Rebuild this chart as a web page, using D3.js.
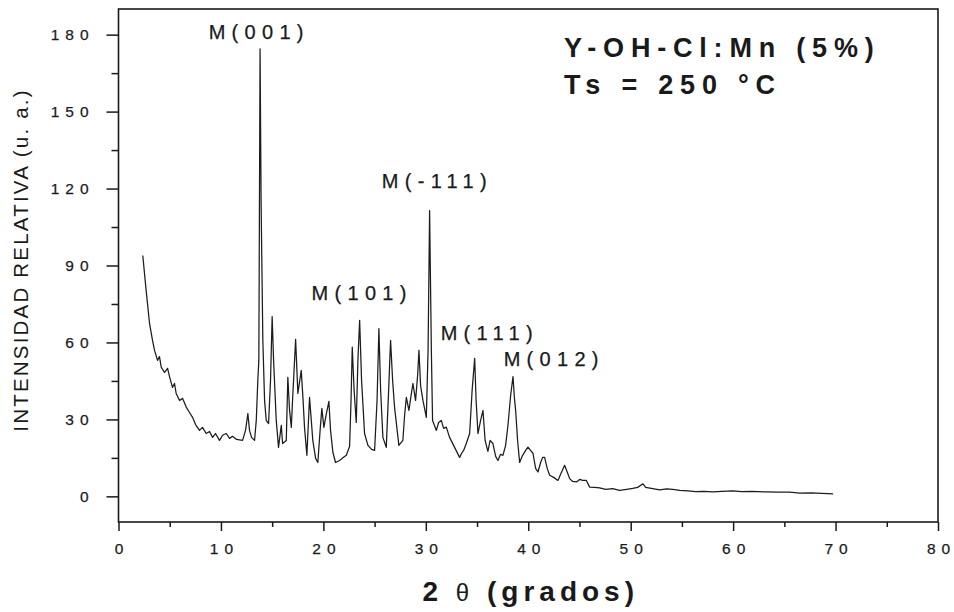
<!DOCTYPE html>
<html>
<head>
<meta charset="utf-8">
<script src="https://cdn.jsdelivr.net/npm/d3@7"></script>
<style>
  html, body { margin: 0; padding: 0; background: #fff; }
  svg { display: block; }
  text { font-family: "Liberation Sans", Arial, sans-serif; fill: #1a1a1a; }
</style>
</head>
<body>
<svg id="chart" width="954" height="612"></svg>
<script>
// XRD pattern of the Y-OH-Cl:Mn (5%) film, 2θ in degrees vs relative intensity
const twoTheta = [
  2.37, 2.70, 3.03, 3.32, 3.52, 3.81, 4.00, 4.17, 4.49, 4.79, 4.98, 5.27, 5.47, 5.63, 5.96,
  6.25, 6.61, 6.93, 7.23, 7.52, 7.91, 8.20, 8.56, 8.89, 9.18, 9.47, 9.86, 10.16, 10.52, 10.84,
  11.13, 11.52, 12.11, 12.40, 12.63, 12.79, 12.99, 13.28, 13.45, 13.60, 13.70, 13.82, 13.92, 14.09, 14.26,
  14.42, 14.65, 14.84, 15.00, 15.14, 15.40, 15.62, 15.89, 16.02, 16.38, 16.53, 16.70, 16.87, 16.99, 17.29,
  17.51, 17.84, 18.02, 18.16, 18.39, 18.65, 18.97, 19.24, 19.46, 19.68, 19.85, 20.05, 20.26, 20.54, 20.70,
  20.93, 21.19, 21.58, 21.97, 22.24, 22.56, 22.70, 22.82, 23.00, 23.21, 23.37, 23.54, 23.73, 24.02, 24.35,
  24.71, 25.00, 25.24, 25.42, 25.59, 25.81, 26.14, 26.37, 26.56, 26.76, 26.95, 27.37, 27.76, 27.93, 28.10,
  28.35, 28.56, 28.74, 29.00, 29.20, 29.33, 29.49, 29.72, 30.05, 30.22, 30.37, 30.54, 30.66, 31.03, 31.25,
  31.51, 31.74, 32.00, 32.32, 32.81, 33.30, 33.50, 33.69, 33.95, 34.28, 34.52, 34.77, 34.91, 35.09, 35.35,
  35.58, 35.79, 36.06, 36.28, 36.55, 36.82, 37.04, 37.30, 37.53, 37.79, 38.02, 38.28, 38.51, 38.67, 38.77,
  38.96, 39.16, 39.45, 39.75, 39.97, 40.23, 40.46, 40.72, 40.95, 41.21, 41.41, 41.60, 41.85, 42.09, 42.48,
  42.90, 43.16, 43.55, 43.85, 44.04, 44.34, 44.70, 45.02, 45.31, 45.67, 46.00, 46.48, 46.97, 47.56, 48.24,
  48.93, 49.61, 50.20, 50.68, 51.20, 51.46, 52.15, 52.83, 53.52, 54.10, 54.79, 55.57, 56.35, 57.13, 58.01,
  58.89, 59.96, 60.84, 61.82, 63.25, 64.36, 65.53, 66.50, 67.68, 68.65, 69.76
];
const intensity = [
  93.9, 80.2, 67.4, 60.8, 56.9, 53.0, 54.5, 50.4, 48.3, 49.9, 46.7, 42.5, 44.0, 40.1, 37.4,
  38.2, 34.8, 32.7, 30.8, 28.0, 25.7, 26.9, 24.5, 25.3, 23.0, 24.5, 21.8, 23.8, 24.5, 22.6,
  23.4, 22.2, 21.8, 25.7, 32.3, 25.7, 23.0, 21.8, 29.6, 45.2, 53.0, 174.5, 115.0, 60.8, 37.4,
  29.6, 28.4, 45.2, 70.1, 53.0, 29.6, 19.1, 27.7, 20.6, 21.8, 46.4, 33.5, 26.9, 37.4, 61.2,
  40.1, 49.1, 37.4, 26.9, 16.0, 38.6, 21.8, 14.8, 13.2, 25.7, 34.3, 26.9, 31.6, 37.0, 25.7,
  17.1, 13.2, 14.0, 15.2, 16.0, 19.5, 37.4, 58.2, 41.3, 28.8, 53.0, 68.6, 45.2, 24.5, 19.9,
  18.3, 17.9, 37.4, 65.4, 41.3, 23.0, 19.1, 41.3, 60.8, 45.2, 34.7, 19.9, 21.8, 31.6, 38.6,
  33.5, 39.3, 44.0, 37.4, 47.1, 56.9, 43.2, 37.4, 30.8, 56.9, 111.4, 56.9, 29.6, 25.7, 28.8,
  29.6, 26.5, 27.0, 23.0, 19.1, 15.2, 16.8, 17.9, 20.6, 24.5, 41.3, 53.8, 37.4, 24.5, 29.6,
  33.5, 21.8, 17.5, 21.8, 20.6, 15.6, 14.0, 16.4, 16.0, 19.9, 27.7, 39.3, 46.7, 37.4, 33.5,
  21.8, 13.2, 16.0, 17.9, 19.2, 17.9, 16.8, 10.9, 9.5, 13.2, 15.2, 15.2, 10.9, 8.2, 7.4,
  6.2, 8.6, 12.1, 9.0, 6.9, 5.8, 5.6, 6.6, 6.2, 6.2, 3.6, 3.5, 3.3, 2.7, 3.0,
  2.3, 2.7, 3.1, 3.5, 4.9, 3.5, 3.0, 2.5, 2.9, 2.7, 2.3, 2.1, 1.8, 1.9, 1.7,
  1.9, 2.1, 1.8, 1.9, 1.7, 1.6, 1.6, 1.3, 1.4, 1.2, 1.0
];

// Axis ticks
const xMajorTicks = [0, 10, 20, 30, 40, 50, 60, 70, 80];
const xMinorTicks = [5, 15, 25, 35, 45, 55, 65, 75];
const yMajorTicks = [0, 30, 60, 90, 120, 150, 180];
const yMinorTicks = [15, 45, 75, 105, 135, 165];

// Reflection labels and where they sit (2θ, intensity of the text baseline)
const peakLabels = ["M(001)", "M(101)", "M(-111)", "M(111)", "M(012)"];
const peakLabelAt = [[8.8, 178.2], [18.85, 76.5], [25.7, 120.4], [31.45, 61.0], [37.6, 50.8]];

const sampleLines = ["Y-OH-Cl:Mn (5%)", "Ts = 250 °C"];

const svg = d3.select("#chart");
const frame = { left: 118.5, right: 938, top: 9, bottom: 522 };

const x = d3.scaleLinear().domain([0, 80]).range([frame.left, frame.right]);
const y = d3.scaleLinear().domain([-10, 190]).range([frame.bottom, frame.top]);

const LS = 6; // spacing between digits of the tick labels

// Writes a string as spaced-out glyphs, without spacing after the last one,
// so that centred / end-anchored labels stay where the anchor puts them.
function spaced(sel, spacing) {
  sel.each(function () {
    const t = d3.select(this);
    const s = t.text();
    t.text(null);
    if (s.length > 1) {
      t.append("tspan").style("letter-spacing", spacing + "px").text(s.slice(0, -1));
    }
    t.append("tspan").text(s.slice(-1));
  });
}

// Frame
svg.append("rect")
  .attr("x", frame.left).attr("y", frame.top)
  .attr("width", frame.right - frame.left).attr("height", frame.bottom - frame.top)
  .attr("fill", "none").attr("stroke", "#1a1a1a").attr("stroke-width", 1.6);

// Bottom axis
const gx = svg.append("g").attr("transform", `translate(0,${frame.bottom})`);
gx.call(d3.axisBottom(x).tickValues(xMajorTicks).tickSize(9).tickPadding(12).tickFormat(d3.format("d")));
gx.append("g").call(d3.axisBottom(x).tickValues(xMinorTicks).tickSize(5).tickFormat(""));

// Left axis
const gy = svg.append("g").attr("transform", `translate(${frame.left},0)`);
gy.call(d3.axisLeft(y).tickValues(yMajorTicks).tickSize(12).tickPadding(18).tickFormat(d3.format("d")));
gy.append("g").call(d3.axisLeft(y).tickValues(yMinorTicks).tickSize(7).tickFormat(""));

svg.selectAll(".domain").remove();
svg.selectAll(".tick line").attr("stroke", "#1a1a1a").attr("stroke-width", 1.5);
svg.selectAll(".tick text")
  .attr("font-size", 15.5)
  .attr("font-family", "'Liberation Sans', Arial, sans-serif")
  .attr("fill", "#1e1e1e")
  .attr("stroke", "#1e1e1e")
  .attr("stroke-width", 0.25)
  .call(spaced, LS);

// Diffraction trace
const pts = twoTheta.map((t, i) => [t, intensity[i]]);
svg.append("path")
  .datum(pts)
  .attr("fill", "none")
  .attr("stroke", "#1c1c1c")
  .attr("stroke-width", 1.25)
  .attr("stroke-linejoin", "round")
  .attr("d", d3.line().x(d => x(d[0])).y(d => y(d[1])));

// Reflection labels
svg.selectAll("text.peak")
  .data(peakLabels)
  .join("text")
  .attr("class", "peak")
  .attr("x", (d, i) => x(peakLabelAt[i][0]))
  .attr("y", (d, i) => y(peakLabelAt[i][1]))
  .attr("font-size", 20)
  .attr("stroke", "#1a1a1a")
  .attr("stroke-width", 0.25)
  .style("letter-spacing", "6.3px")
  .text(d => d);

// Sample description
svg.selectAll("text.sample")
  .data(sampleLines)
  .join("text")
  .attr("class", "sample")
  .attr("x", 564)
  .attr("y", (d, i) => 57 + i * 37)
  .attr("font-size", 27)
  .attr("font-weight", "bold")
  .style("letter-spacing", "6.8px")
  .text(d => d);

// Axis titles
const xt = svg.append("text")
  .attr("x", (frame.left + frame.right) / 2)
  .attr("y", 601)
  .attr("text-anchor", "middle")
  .attr("font-size", 28)
  .attr("font-weight", "bold");
xt.append("tspan").style("letter-spacing", "5px").text("2 ");
xt.append("tspan").style("letter-spacing", "5px").attr("font-weight", "normal").attr("font-size", 24).text("θ");
xt.append("tspan").style("letter-spacing", "5px").text(" (grados");
xt.append("tspan").text(")");

svg.append("text")
  .attr("transform", "translate(28,260) rotate(-90)")
  .attr("text-anchor", "middle")
  .attr("font-size", 20.5)
  .style("letter-spacing", "2.2px")
  .text("INTENSIDAD RELATIVA (u. a.)");
</script>
</body>
</html>
